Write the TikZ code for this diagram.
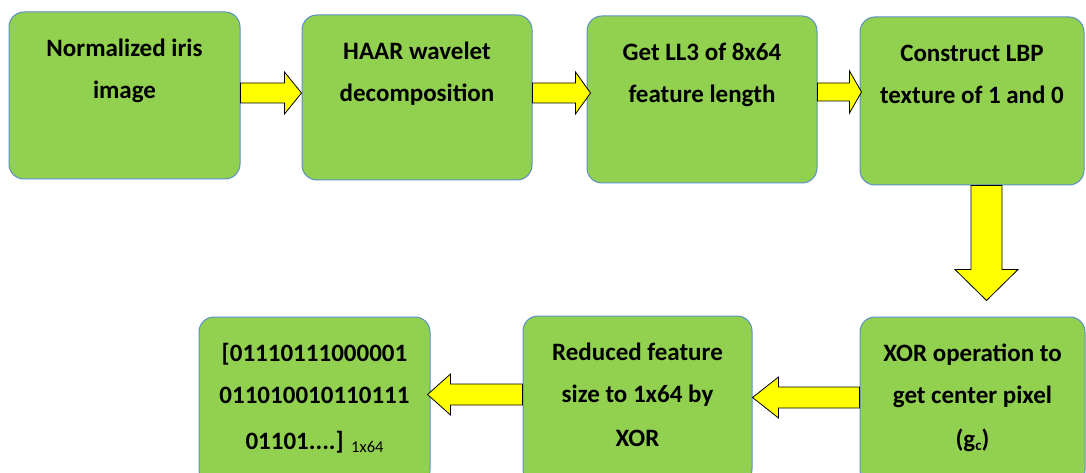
\documentclass[tikz,border=0pt]{standalone}
\usepackage{fontspec}
\setmainfont{Carlito}
\usetikzlibrary{calc}
\definecolor{boxgreen}{HTML}{92D050}
\definecolor{boxline}{HTML}{5B8FC7}
\definecolor{arrowyellow}{HTML}{FFFF00}
\newcommand\blockarr[5]{%
  \coordinate (hb) at ($(#2)!#5!(#1)$);
  \draw[yarrow] ($(#1)!#3!90:(#2)$) -- ($(hb)!#3!90:(#2)$) -- ($(hb)!#4!90:(#2)$) -- (#2)
    -- ($(hb)!#4!-90:(#2)$) -- ($(hb)!#3!-90:(#2)$) -- ($(#1)!#3!-90:(#2)$) -- cycle;}
\begin{document}
\begin{tikzpicture}[x=1pt,y=-1pt,
  greenbox/.style={draw=boxline, line width=1pt, fill=boxgreen, rounded corners=15pt, inner sep=0pt},
  boxtext/.style={anchor=north, align=center, inner sep=0pt, font=\fontsize{25}{42}\selectfont\bfseries},
  yarrow/.style={draw=black, line width=0.8pt, fill=arrowyellow, line join=miter}]
\useasboundingbox (0,0) rectangle (1086,473);
\fill[white] (0,0) rectangle (1086,473);
\clip (0,0) rectangle (1086,473);
% top row
\node[greenbox, minimum width=231pt, minimum height=167pt] (b1) at (124.5,95.5) {};
\node[greenbox, minimum width=230pt, minimum height=165pt] (b2) at (417,97.5) {};
\node[greenbox, minimum width=230pt, minimum height=167pt] (b3) at (702,99.5) {};
\node[greenbox, minimum width=224pt, minimum height=168pt] (b4) at (972,101) {};
% bottom row
\node[greenbox, minimum width=225pt, minimum height=168pt] (xor) at (972.5,401) {};
\node[greenbox, minimum width=229pt, minimum height=168pt] (red) at (637.5,400) {};
\node[greenbox, minimum width=231pt, minimum height=168pt] (res) at (314.5,401) {};
% texts
\node[boxtext] (t1) at ($(b1.north)+(0,15)$) {\strut Normalized iris\\image};
\node[boxtext] (t2) at ($(b2.north)+(0,15)$) {\strut HAAR wavelet\\decomposition};
\node[boxtext] (t3) at ($(b3.north)+(0,15)$) {\strut Get LL3 of 8x64\\feature length};
\node[boxtext] (t4) at ($(b4.north)+(0,15)$) {\strut Construct LBP\\texture of 1 and 0};
\node[boxtext] (t5) at ($(xor.north)+(0,15)$) {\strut XOR operation to\\get center pixel\\[2pt](g\raisebox{-3pt}{\fontsize{15}{15}\selectfont c})};
\node[boxtext] (t6) at ($(red.north)+(0,15)$) {\strut Reduced feature\\size to 1x64 by\\[2pt]XOR};
\node[boxtext] (t7) at ($(res.north)+(0,15)$) {\strut [01110111000001\\011010010110111\\[4pt]01101....] \raisebox{-3pt}{\fontsize{16.5}{16.5}\selectfont\mdseries 1x64}};
% connectors
\coordinate (a1s) at ($(b1.east)+(0,-2.5)$);
\coordinate (a1e) at (b2.west |- a1s);
\blockarr{a1s}{a1e}{10pt}{21pt}{17pt}
\coordinate (a2s) at ($(b2.east)+(0,-4.5)$);
\coordinate (a2e) at ($(b3.west |- a2s)+(4,0)$);
\blockarr{a2s}{a2e}{10pt}{21pt}{15pt}
\coordinate (a3s) at ($(b3.east)+(0,-7.5)$);
\coordinate (a3e) at ($(b4.west |- a3s)+(2,0)$);
\blockarr{a3s}{a3e}{9pt}{21pt}{12pt}
\coordinate (a4s) at ($(b4.south)+(14.5,0)$);
\coordinate (a4e) at ($(a4s |- xor.north)+(0,-16)$);
\blockarr{a4s}{a4e}{15.5pt}{31.5pt}{31pt}
\coordinate (a5s) at ($(xor.west)+(0,-3.5)$);
\coordinate (a5e) at (red.east |- a5s);
\blockarr{a5s}{a5e}{10.5pt}{20.5pt}{26pt}
\coordinate (a6s) at ($(red.west)+(0,-5.5)$);
\coordinate (a6e) at ($(res.east |- a6s)+(-3,0)$);
\blockarr{a6s}{a6e}{10.5pt}{20.5pt}{23pt}
\end{tikzpicture}
\end{document}
